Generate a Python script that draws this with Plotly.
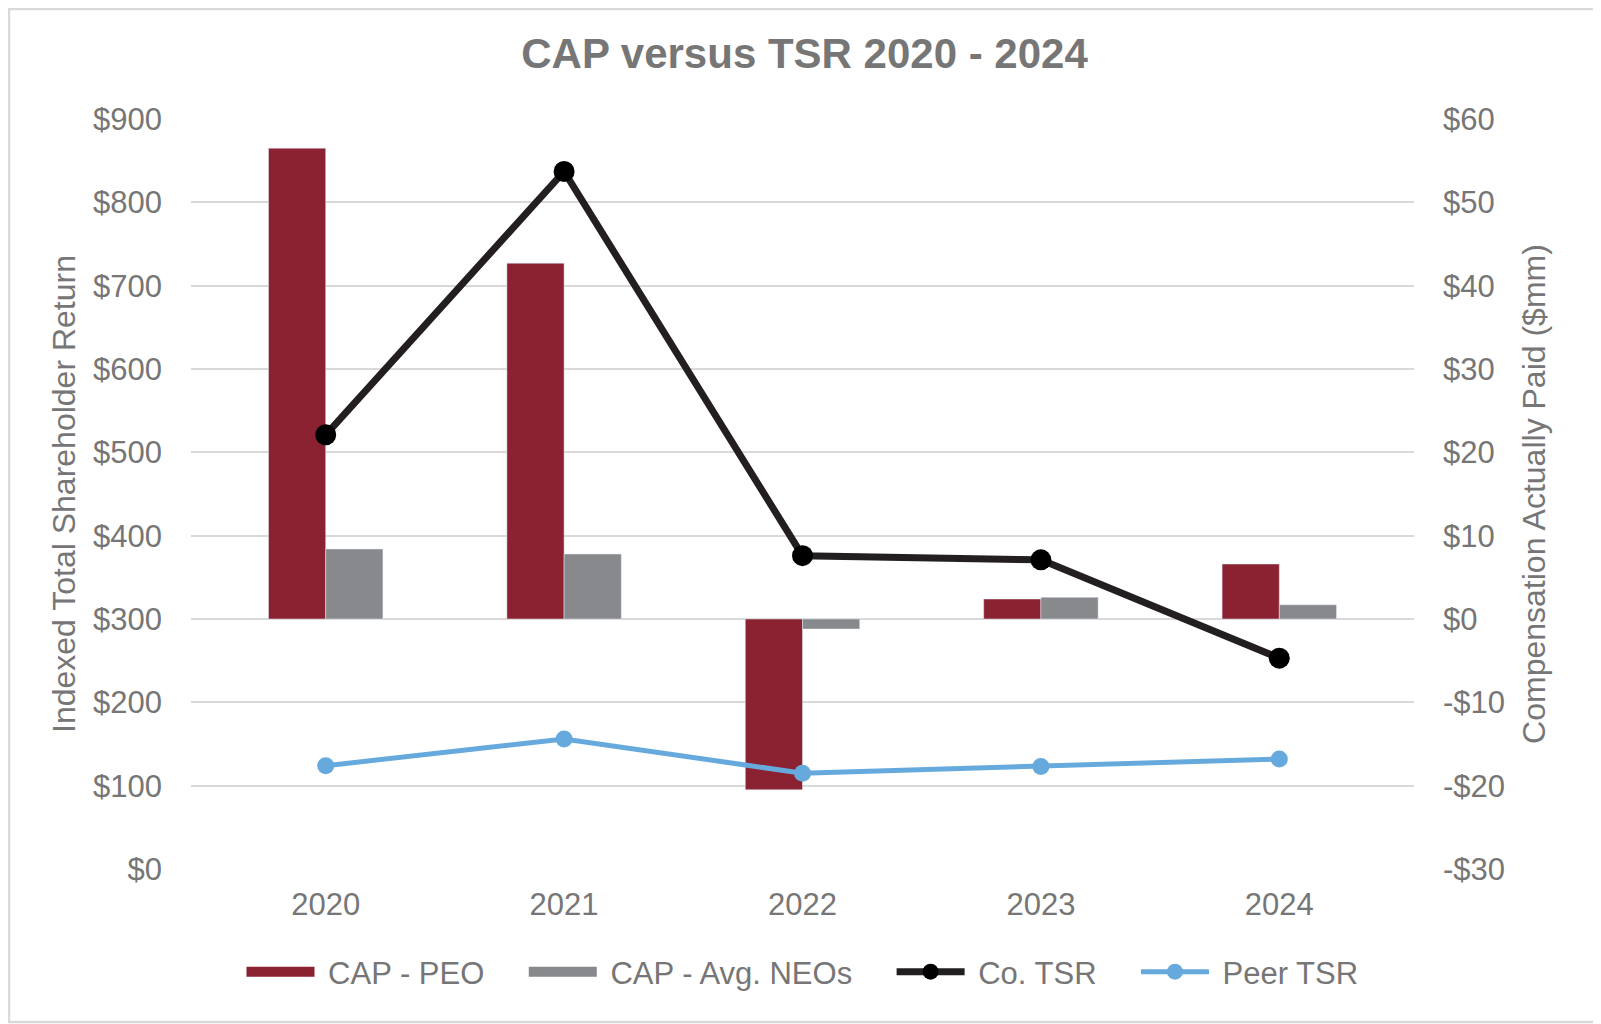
import plotly.graph_objects as go

years = ["2020", "2021", "2022", "2023", "2024"]
cap_peo = [56.5, 42.7, -20.5, 2.4, 6.6]
cap_neo = [8.4, 7.8, -1.2, 2.6, 1.7]
co_tsr = [521, 837, 376, 371, 253]
peer_tsr = [124, 156, 115, 123, 132]

left_ticks = [0, 100, 200, 300, 400, 500, 600, 700, 800, 900]
left_labels = ["$" + str(v) for v in left_ticks]
right_ticks = [-30, -20, -10, 0, 10, 20, 30, 40, 50, 60]
right_labels = [("-$" + str(-v)) if v < 0 else ("$" + str(v)) for v in right_ticks]

GRAY = "#767676"
PEO_C = "#8B2232"
NEO_C = "#87898D"
FONT = "Liberation Sans, Arial, sans-serif"
NB = "\u00a0"

fig = go.Figure()
fig.add_trace(go.Bar(x=years, y=cap_peo, name="CAP - PEO", marker_color=PEO_C,
                     yaxis="y", showlegend=False, legendgroup="peo"))
fig.add_trace(go.Bar(x=years, y=cap_neo, name="CAP - Avg. NEOs", marker_color=NEO_C,
                     yaxis="y", showlegend=False, legendgroup="neo"))
# legend proxies (no marks drawn) to give the wide bar swatches
fig.add_trace(go.Scatter(x=[None], y=[None], name=NB + "CAP - PEO" + NB * 4, mode="lines",
                         line=dict(color=PEO_C, width=16), yaxis="y", legendgroup="peo"))
fig.add_trace(go.Scatter(x=[None], y=[None], name=NB + "CAP - Avg. NEOs" + NB * 4, mode="lines",
                         line=dict(color=NEO_C, width=16), yaxis="y", legendgroup="neo"))
fig.add_trace(go.Scatter(x=years, y=co_tsr, name=NB + "Co. TSR" + NB * 4, mode="lines+markers",
                         line=dict(color="#231F20", width=7),
                         marker=dict(color="#000000", size=21), yaxis="y2"))
fig.add_trace(go.Scatter(x=years, y=peer_tsr, name=NB + "Peer TSR", mode="lines+markers",
                         line=dict(color="#66AADD", width=5),
                         marker=dict(color="#66AADD", size=17), yaxis="y2"))

# page has an 8px body margin; figure sized so it ends at the window edge
W, H = 1593, 1016
ml, mr, mt, mb = 183, 187, 111, 155
pw = W - ml - mr
ph = H - mt - mb

fig.update_layout(
    width=W, height=H,
    margin=dict(l=ml, r=mr, t=mt, b=mb),
    paper_bgcolor="white", plot_bgcolor="white",
    font=dict(family=FONT, color=GRAY, size=31),
    title=dict(text="<b>CAP versus TSR 2020 - 2024</b>", x=0.5, xanchor="center",
               y=1 - 45 / H, yanchor="middle",
               font=dict(family=FONT, size=42, color=GRAY)),
    barmode="group", bargap=0.52, bargroupgap=0,
    showlegend=True,
    legend=dict(orientation="h", x=0.5, xanchor="center", y=-(964 - 861) / ph,
                yanchor="middle",
                font=dict(size=31, color=GRAY), itemwidth=68,
                traceorder="normal"),
    xaxis=dict(showgrid=False, showline=False, ticks="", zeroline=False,
               type="category", range=[-0.565, 4.565],
               ticklabelstandoff=14,
               tickfont=dict(size=31, color=GRAY)),
    yaxis=dict(side="right", range=[-30, 60], tickvals=right_ticks, ticktext=right_labels,
               showgrid=False, zeroline=False, showline=False, ticks="",
               ticklabelstandoff=28,
               title=dict(text="Compensation Actually Paid ($mm)", standoff=18,
                          font=dict(size=32, color=GRAY)),
               tickfont=dict(size=31, color=GRAY)),
    yaxis2=dict(side="left", overlaying="y", range=[0, 900], tickvals=left_ticks,
                ticktext=left_labels, showgrid=True, gridcolor="#D9D9D9", gridwidth=2,
                zeroline=False, showline=False, ticks="",
                ticklabelstandoff=28,
                title=dict(text="Indexed Total Shareholder Return", standoff=7,
                           font=dict(size=32, color=GRAY)),
                tickfont=dict(size=31, color=GRAY)),
    shapes=[dict(type="rect", xref="paper", yref="paper",
                 x0=-(ml - 1) / pw, x1=1 + (mr - 2) / pw,
                 y0=-(mb - 2) / ph, y1=1 + (mt - 1) / ph,
                 line=dict(color="#D9D9D9", width=2.5), layer="below")],
)

fig.write_html("out.html")
